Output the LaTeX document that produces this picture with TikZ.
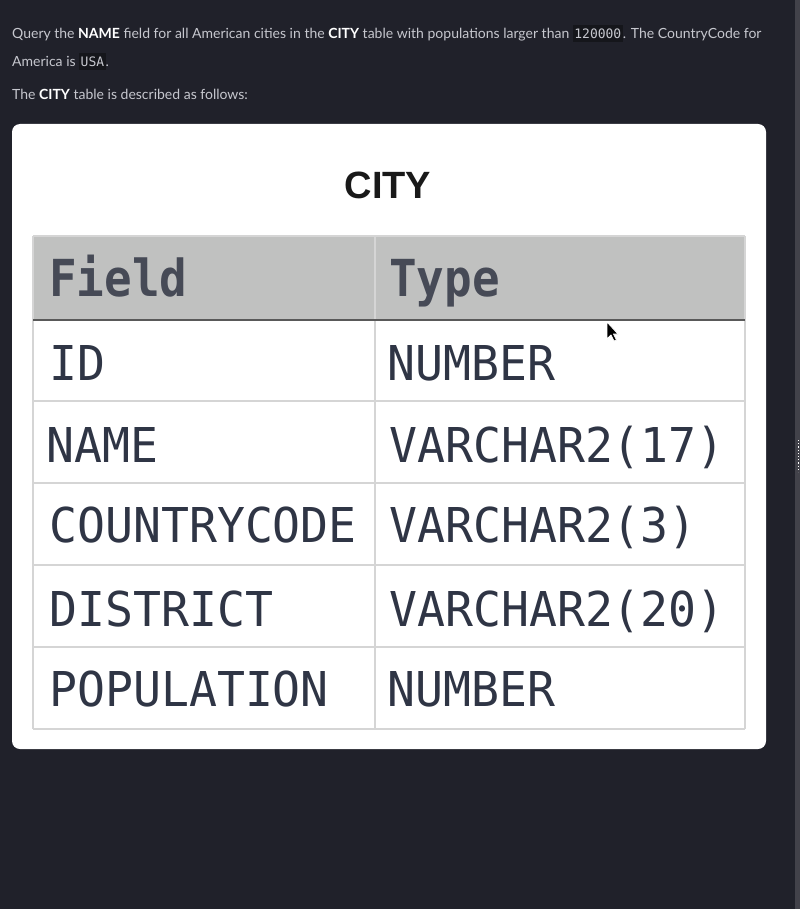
\documentclass[tikz,border=0pt]{standalone}
\usepackage{fontspec}
\setmainfont{Lato}
\newfontfamily\monofont{DejaVu Sans Mono}
\newfontfamily\cellfont[FakeStretch=0.968]{DejaVu Sans Mono}
\newfontfamily\headcellfont[FakeStretch=0.9]{DejaVu Sans Mono}
\newfontfamily\titlefont{Liberation Sans}
\usetikzlibrary{positioning}
\definecolor{pagebg}{HTML}{20212A}
\definecolor{bodytext}{HTML}{C6C7CE}
\definecolor{codebg}{HTML}{15161B}
\definecolor{cellink}{HTML}{2F3545}
\definecolor{headink}{HTML}{464A56}
\definecolor{headfill}{HTML}{C0C1C0}
\definecolor{gridline}{HTML}{D5D5D5}
\newcommand{\inlinecode}[1]{{\setlength{\fboxsep}{1.5pt}\colorbox{codebg}{\vrule height 12pt depth 2pt width 0pt\monofont\fontsize{13}{13}\selectfont\color{bodytext}#1}}}
\newcommand{\strongword}[1]{{\bfseries\color{white}#1}}
\tikzset{
  prose/.style={anchor=base west, inner sep=0pt, text=bodytext, font=\fontsize{14}{14}\selectfont},
  headcell/.style={anchor=base west, inner sep=0pt, text=headink, font=\headcellfont\bfseries\fontsize{51}{51}\selectfont},
  bodycell/.style={anchor=base west, inner sep=0pt, text=cellink, font=\cellfont\fontsize{48}{48}\selectfont},
  rule/.style={gridline, line width=1.6pt}
}
\begin{document}
\begin{tikzpicture}[x=1pt, y=-1pt]
  \fill[pagebg] (0,0) rectangle (800,909);
  \useasboundingbox (0,0) rectangle (800,909);
  \fill[pagebg!85!white] (795,0) rectangle (800,909);
  \draw[white, dotted, line width=1.2pt] (798.5,440) -- (798.5,472);
  % question text
  \node[prose] (line1) at (12,39) {Query the \strongword{NAME} field for all American cities in the \strongword{CITY} table with populations larger than \inlinecode{120000}. The CountryCode for};
  \node[prose] (line2) at (12,67) {America is \inlinecode{USA}.};
  \node[prose] (line3) at (12,100) {The \strongword{CITY} table is described as follows:};
  % card with the table picture
  \fill[white, rounded corners=8pt] (12,124) rectangle (766,749);
  \node[anchor=base, inner sep=0pt, font=\titlefont\bfseries\fontsize{38}{38}\selectfont, text=black!90] (title) at (388,199) {CITY};
  \fill[headfill] (33,236) rectangle (745,320);
  \draw[rule] (33,236) -- (745,236);
  \draw[rule] (33,401) -- (745,401);
  \draw[rule] (33,483) -- (745,483);
  \draw[rule] (33,565) -- (745,565);
  \draw[rule] (33,647) -- (745,647);
  \draw[rule] (33,729) -- (745,729);
  \draw[rule] (33,236) -- (33,729);
  \draw[rule] (745,236) -- (745,729);
  \draw[rule] (375,236) -- (375,729);
  \draw[black!65, line width=2.2pt] (33,320) -- (745,320);
  \node[headcell] (fieldhead) at (49,296) {Field};
  \node[headcell] (typehead) at (389,296) {Type};
  \node[bodycell] (f1) at (49,380) {ID};
  \node[bodycell] (t1) at (387,380) {NUMBER};
  \node[bodycell] (f2) at (46,462) {NAME};
  \node[bodycell] (t2) at (389,462) {VARCHAR2(17)};
  \node[bodycell] (f3) at (49,542) {COUNTRYCODE};
  \node[bodycell] (t3) at (389,542) {VARCHAR2(3)};
  \node[bodycell] (f4) at (49,626) {DISTRICT};
  \node[bodycell] (t4) at (389,626) {VARCHAR2(20)};
  \node[bodycell] (f5) at (49,706) {POPULATION};
  \node[bodycell] (t5) at (387,706) {NUMBER};
  % pointer
  \filldraw[fill=black, draw=white, line width=0.8pt, line join=round] (607,322) -- (607,339) -- (611,335) -- (614,341) -- (616.5,340) -- (613.5,334) -- (618,334) -- cycle;
\end{tikzpicture}
\end{document}
